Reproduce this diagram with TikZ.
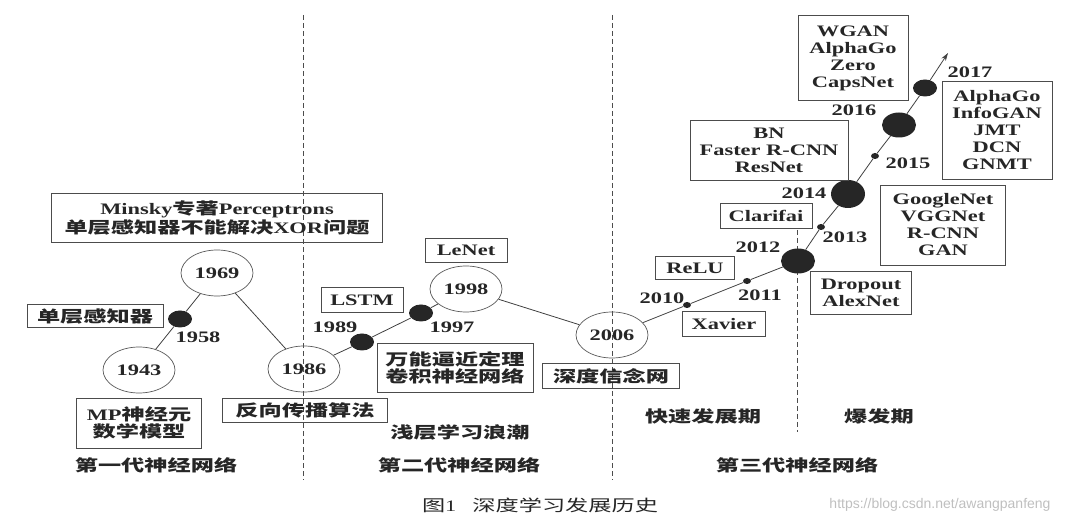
\documentclass[tikz,border=0pt]{standalone}
\usepackage{fontspec}
\setmainfont{Liberation Serif}[FakeStretch=1.4]
\newfontfamily\cjk{Noto Sans CJK SC}[FakeStretch=1.45]
\newfontfamily\urlfont{Liberation Sans}
\newcommand\zh[1]{{\cjk #1}}
\usetikzlibrary{shapes.geometric,arrows.meta}
\begin{document}
\begin{tikzpicture}[x=1pt,y=-1pt,
    every node/.style={font=\fontsize{16}{17}\selectfont\bfseries, text=black!85},
    yr/.style={ellipse, draw=black!65, line width=0.7pt, minimum width=72, minimum height=46, inner sep=0},
    dot/.style={ellipse, fill=black!85, inner sep=0, minimum width=24, minimum height=17},
    bigdot/.style={dot, minimum width=34, minimum height=25},
    tinydot/.style={dot, minimum width=8, minimum height=6},
    box/.style 2 args={draw=black!70, line width=0.8pt, align=center, inner sep=2pt,
      minimum width=#1, minimum height=#2},
    link/.style={draw=black!75, line width=0.8pt},
    divider/.style={draw=black!70, line width=0.8pt, dash pattern=on 5pt off 3pt}]
  \useasboundingbox (0,0) rectangle (1069,521);
  % period dividers
  \foreach \x in {303,612}
    \draw[divider] (\x,15) -- (\x,480);
  \draw[divider] (797,230) -- (797,432);
  % milestones
  \node[yr] (n1943) at (139,370) {1943};
  \node[yr] (n1969) at (217,273) {1969};
  \node[yr] (n1986) at (304,369) {1986};
  \node[yr] (n1998) at (466,289) {1998};
  \node[yr] (n2006) at (612,335) {2006};
  \node[dot] (d1958) at (180,319) {};
  \node[dot] (d1989) at (362,342) {};
  \node[dot] (d1997) at (421,313) {};
  \node[tinydot] (d2010) at (687,305) {};
  \node[tinydot] (d2011) at (747,281) {};
  \node[bigdot] (d2012) at (798,261) {};
  \node[tinydot] (d2013) at (821,227) {};
  \node[bigdot, minimum height=28] (d2014) at (848,194) {};
  \node[tinydot] (d2015) at (875,156) {};
  \node[bigdot] (d2016) at (899,125) {};
  \node[dot] (d2017) at (925,88) {};
  \coordinate (tip) at (948,53);
  \draw[link] (n1943) -- (d1958) -- (n1969) -- (n1986) -- (d1989) -- (d1997) -- (n1998) -- (n2006)
    -- (d2010) -- (d2011) -- (d2012) -- (d2013) -- (d2014) -- (d2015) -- (d2016) -- (d2017);
  \draw[link, -{Stealth[length=8pt, width=5pt]}] (d2017) -- (tip);
  % year labels
  \node (t1958) at (198,337) {1958};
  \node (t1989) at (335,327) {1989};
  \node (t1997) at (452,327) {1997};
  \node (t2010) at (662,298) {2010};
  \node (t2011) at (760,295) {2011};
  \node (t2012) at (758,247) {2012};
  \node (t2013) at (845,237) {2013};
  \node (t2014) at (804,193) {2014};
  \node (t2015) at (908,163) {2015};
  \node (t2016) at (854,110) {2016};
  \node (t2017) at (970,72) {2017};
  % events
  \node[box={331}{49}] (minsky) at (217,218) {Minsky\zh{专著}Perceptrons\\\zh{单层感知器不能解决}XOR\zh{问题}};
  \node[box={136}{23}] (slp) at (95,316) {\zh{单层感知器}};
  \node[box={125}{50}] (mp) at (139,423) {MP\zh{神经元}\\\zh{数学模型}};
  \node[box={165}{24}] (bp) at (305,410) {\zh{反向传播算法}};
  \node[box={82}{25}] (lstm) at (362,300) {LSTM};
  \node[box={82}{24}] (lenet) at (466,250) {LeNet};
  \node[box={156}{49}] (uat) at (455,368) {\zh{万能逼近定理}\\\zh{卷积神经网络}};
  \node[box={137}{25}] (dbn) at (611,376) {\zh{深度信念网}};
  \node[box={79}{23}] (relu) at (695,268) {ReLU};
  \node[box={83}{25}] (xavier) at (724,324) {Xavier};
  \node[box={92}{25}] (clarifai) at (766,216) {Clarifai};
  \node[box={101}{43}] (alexnet) at (861,293) {Dropout\\AlexNet};
  \node[box={158}{60}] (resnet) at (769,150) {BN\\Faster R-CNN\\ResNet};
  \node[box={125}{80}] (vgg) at (943,225) {GoogleNet\\VGGNet\\R-CNN\\GAN};
  \node[box={110}{85}] (wgan) at (853,58) {WGAN\\AlphaGo\\Zero\\CapsNet};
  \node[box={110}{98}] (gnmt) at (997,130) {AlphaGo\\InfoGAN\\JMT\\DCN\\GNMT};
  % periods
  \node (wave) at (460,432) {\zh{浅层学习浪潮}};
  \node (fast) at (703,416) {\zh{快速发展期}};
  \node (boom) at (879,416) {\zh{爆发期}};
  \node (gen1) at (156,465) {\zh{第一代神经网络}};
  \node (gen2) at (459,465) {\zh{第二代神经网络}};
  \node (gen3) at (797,465) {\zh{第三代神经网络}};
  \node[font=\fontsize{16}{17}\selectfont] (caption) at (540,505) {\zh{图}1\quad\zh{深度学习发展历史}};
  \node[font=\urlfont\fontsize{14}{16}\selectfont, text=black!25] (mark) at (940,505) {https://blog.csdn.net/awangpanfeng};
\end{tikzpicture}
\end{document}
